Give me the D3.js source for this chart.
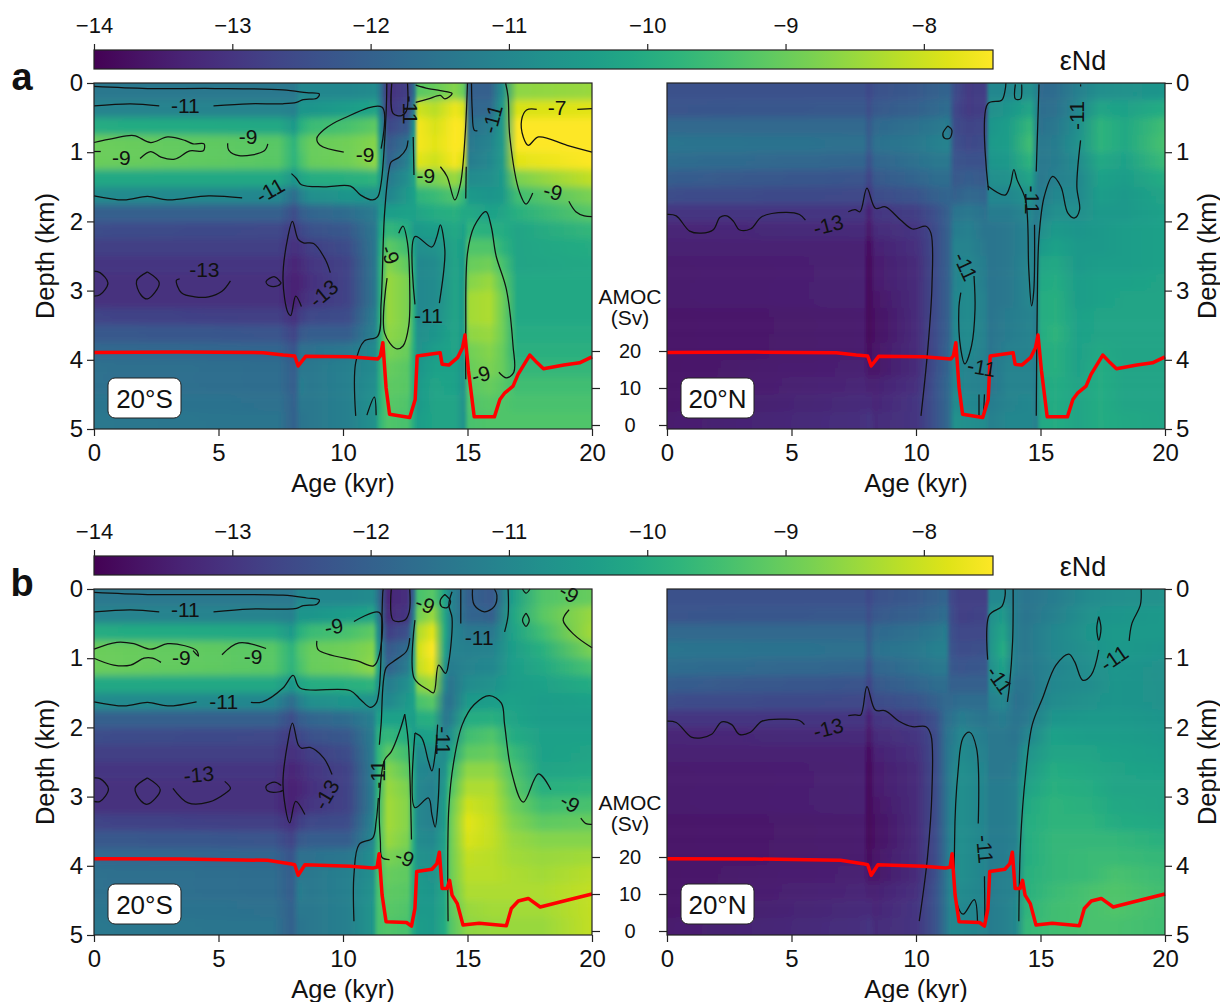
<!DOCTYPE html>
<html><head><meta charset="utf-8">
<script src="https://cdn.jsdelivr.net/npm/d3@7"></script>
<style>
html,body{margin:0;padding:0;background:#fff}
svg{display:block}
text{font-family:"Liberation Sans",Arial,sans-serif;fill:#111}
.tick text{font-family:"Liberation Sans",Arial,sans-serif}
</style></head><body>
<svg id="c" width="1220" height="1002"></svg>
<script>
// ---------- shared ----------
const depthRows = [0,.25,.5,.75,1,1.25,1.5,1.75,2,2.25,2.5,2.75,3,3.25,3.5,3.75,4,4.25,4.5,4.75,5];
const xTicks = [0,5,10,15,20];
const yTicks = [0,1,2,3,4,5];
const cbTicks = [-14,-13,-12,-11,-10,-9,-8];
const amocTicks = [0,10,20];

// ---------- AMOC (age kyr, Sv) ----------
const amocA = [[0,19.6],[3.5,19.7],[6.8,19.55],[7.6,18.9],[8.06,18.65],[8.2,15.95],[8.5,18.55],[10.3,18.47],[11.4,17.84],[11.5,18.65],[11.6,22.25],[11.73,10.1],[11.87,2.9],[12.68,2.0],[12.9,6.9],[12.98,18.65],[13.9,19.55],[13.98,16.4],[14.25,16.2],[14.6,18.2],[14.8,20.9],[14.9,24.3],[15.04,14.6],[15.27,2.2],[16.08,2.2],[16.3,6.9],[16.5,8.7],[16.83,10.5],[17.03,13.7],[17.5,18.9],[17.8,16.8],[18.05,15.2],[18.87,16.2],[19.5,16.8],[20,18.4]];
const amocB = [[0,19.55],[3.5,19.46],[6.97,19.1],[7.86,18.2],[8.06,17.9],[8.2,15.07],[8.47,17.9],[10.3,17.5],[11.19,17],[11.37,17.3],[11.45,20.9],[11.57,9.7],[11.73,2.5],[12.55,2.3],[12.75,1.3],[12.89,6.1],[12.96,16.1],[13.57,16.7],[13.77,18.2],[13.87,21.3],[13.98,11.5],[14.18,11.5],[14.28,13.7],[14.38,9.7],[14.59,7.4],[14.82,1.6],[15.47,2.1],[16.56,1.4],[16.76,6.1],[17.04,8.1],[17.44,8.8],[17.92,6.5],[18.87,8.1],[20,10]];

// ---------- Panel a, 20S ----------
const agesA20S = [0,7.4,8.05,8.3,8.7,10.2,11.3,11.5,11.8,12.6,12.88,13.0,13.7,14.5,14.85,15.05,15.9,16.4,17.0,20];
const heatA20S = [
[-11.4,-11.1,-10.0,-8.95,-8.95,-10.1,-10.9,-12.0,-12.5,-12.8,-13.0,-13.1,-13.1,-12.7,-12.2,-11.8,-11.6,-11.6,-11.5,-11.4],
[-11.4,-11.1,-10.1,-9.2,-9.2,-10.1,-11,-12,-12.6,-12.8,-13,-13.1,-13.1,-12.8,-12.3,-11.9,-11.7,-11.7,-11.6,-11.5],
[-11.4,-11.2,-10.5,-9.8,-9.8,-10.6,-11.7,-12.5,-12.9,-13.1,-13.3,-13.4,-13.4,-13.1,-12.7,-12.3,-12.1,-12.1,-12.0,-12.0],
[-11.0,-10.6,-9.9,-9.3,-9.4,-10.2,-11.2,-12.1,-12.6,-13,-13.2,-13.3,-13.2,-12.8,-12.2,-11.6,-11.4,-11.3,-11.4,-11.5],
[-11.0,-10.6,-9.6,-9.0,-9.0,-10.0,-10.8,-11.9,-12.4,-12.8,-13,-13.1,-13,-12.6,-12.1,-11.6,-11.4,-11.4,-11.4,-11.4],
[-11.0,-10.4,-9.4,-8.9,-8.9,-9.9,-10.6,-11.7,-12.2,-12.5,-12.7,-12.7,-12.7,-12.5,-12.1,-11.4,-11.2,-11.2,-11.2,-11.2],
[-10.9,-10.2,-9.1,-8.7,-8.6,-9.8,-10.7,-11.3,-11.4,-11.4,-11.4,-11.4,-11.4,-11.2,-11.1,-10.9,-10.9,-10.8,-10.7,-10.7],
[-11.5,-11.2,-10.8,-10.5,-10.3,-10.5,-10.7,-10.5,-10.2,-10,-9.9,-9.9,-9.9,-9.8,-9.8,-9.8,-9.8,-9.8,-9.8,-9.7],
[-13.1,-13,-12.6,-12.2,-12.0,-11.4,-11.1,-10.4,-9.7,-9.1,-8.7,-8.5,-8.5,-8.5,-8.6,-8.8,-9,-9.1,-9.2,-9.3],
[-12.8,-12.6,-12.2,-11.6,-11.2,-10.8,-10.5,-10.3,-10,-9.5,-9.1,-8.8,-8.8,-8.8,-8.8,-9,-9.2,-9.2,-9.3,-9.4],
[-11.5,-11,-10.5,-10.3,-10.2,-10.2,-10.3,-10.3,-10.5,-10.4,-10.2,-10.1,-10.1,-10.1,-10.1,-10.1,-10.1,-10.1,-10.1,-10.1],
[-9.2,-8,-7.6,-7.6,-7.8,-8.9,-9.8,-10.2,-10.5,-10.8,-11,-11,-11,-11,-10.8,-10.7,-10.6,-10.5,-10.5,-10.4],
[-9,-8.2,-7.9,-7.8,-8,-8.8,-9.6,-10,-10.4,-10.7,-10.9,-10.9,-10.9,-10.8,-10.6,-10.4,-10.3,-10.2,-10.2,-10.2],
[-8.7,-7.7,-7.5,-7.5,-7.6,-8.5,-9.3,-9.9,-10.1,-10.2,-10.2,-10.2,-10.2,-10.2,-10.2,-10.2,-10.3,-10.3,-10.2,-10.2],
[-9,-7.9,-7.6,-7.6,-7.9,-8.9,-9.7,-10.1,-10.3,-10.4,-10.5,-10.5,-10.5,-10.5,-10.5,-10.6,-10.7,-10.7,-10.7,-10.7],
[-12,-11.9,-11.6,-11.4,-11.3,-10.9,-10.5,-10.1,-9.8,-9.3,-9,-8.7,-8.4,-8.4,-8.6,-8.9,-9,-9.2,-9.3,-9.4],
[-12,-11.8,-11.3,-11.1,-11,-10.8,-10.6,-10.3,-9.9,-9.3,-8.9,-8.5,-8.3,-8.3,-8.5,-8.7,-8.8,-9,-9.2,-9.3],
[-10.8,-10.5,-10.5,-10.5,-10.5,-10.5,-10.5,-10.2,-10,-9.8,-9.4,-9.1,-8.9,-8.9,-8.9,-9,-9,-9.2,-9.3,-9.3],
[-8.6,-7.9,-7.5,-7.5,-7.8,-8.8,-9.5,-9.9,-10.2,-10.2,-10.2,-10.1,-10.1,-10.1,-10,-9.9,-9.7,-9.5,-9.4,-9.3],
[-8.5,-7.8,-7.4,-7.4,-7.5,-8.1,-8.8,-9.2,-9.7,-10,-10.1,-10.1,-10.1,-10.1,-10,-9.9,-9.7,-9.5,-9.4,-9.3]];
const contoursA20S = [
[[0,.05],[2.15,.08],[4.87,.08],[7.59,.1],[8.54,.14],[9.05,.16],[8.95,.22],[8.4,.24],[8.13,.28],[7.59,.3],[6.23,.3],[4.8,.33]],
[[2.62,.33],[1.47,.3],[0,.33]],
[[0,.86],[.79,.8],[1.6,.76],[2.28,.86],[2.96,.78],[3.65,.83],[3.98,.88],[4.42,.88],[4.39,.98],[3.85,.98],[3.24,1.1],[2.69,1.07],[2.28,.99],[1.85,1.09]],
[[0,.99],[.27,.99]],
[[5.37,.87],[5.41,.97],[5.82,1.05],[6.84,.98],[6.98,.88]],
[[11.53,.95],[11.57,.35],[10.03,.51],[9.22,.68],[8.95,.8],[9.08,.9],[10.03,1.0]],
[[0,1.63],[1.2,1.69],[2.15,1.64],[2.96,1.69],[4.6,1.63],[5.95,1.66]],
[[7.93,1.31],[8.13,1.38],[8.33,1.47],[9.22,1.5],[10.3,1.49],[10.71,1.62],[11.19,1.69],[11.39,1.65],[11.53,1.45],[11.73,.44],[11.76,0]],
[[10.51,4.81],[10.51,4.04],[10.85,3.73],[11.39,3.66],[11.53,3.18],[11.67,1.88],[11.87,1.21],[11.94,1.14],[12.27,1.07],[12.54,.95],[12.61,.83]],
[[9.49,2.74],[9.29,2.55],[8.82,2.32],[8.41,2.31],[8.2,2.26],[7.97,2.0],[7.79,2.22],[7.59,2.84],[7.79,3.32],[7.9,3.36],[8.1,3.08],[8.33,3.23]],
[[7.52,2.89],[7.25,2.8],[6.91,2.87],[7.04,2.93],[7.38,2.93],[7.52,2.89]],
[[0,2.72],[.24,2.74],[.56,2.89],[.24,3.06],[0,3.08]],
[[2.15,2.73],[2.62,2.89],[2.15,3.12],[1.88,3.06],[1.71,2.86],[2.15,2.73]],
[[3.44,2.83],[3.31,2.85],[3.51,3.03],[4.05,3.09],[4.6,3.09],[5.14,3.01],[5.48,2.86]],
[[11.77,2.82],[11.67,3.61],[12.14,3.84],[12.41,3.8],[12.64,3.51],[12.68,2.94],[12.59,2.31],[12.41,2.07],[12.24,2.17]],
[[12.89,3.2],[12.89,2.22],[13.57,2.37],[13.77,2.22],[13.91,2.05],[14.09,2.41],[14.05,2.7],[13.87,3.18]],
[[11.96,0],[12.01,.44],[12.35,.47],[12.55,.4],[12.59,0]],
[[12.92,.03],[13.43,.08],[13.91,.11],[14.38,.15],[14.09,.23],[13.91,.18],[13.43,.23],[12.92,.28]],
[[12.82,.78],[12.85,1.33]],
[[13.91,1.21],[14.18,1.35],[14.49,1.69],[14.72,1.45],[14.9,.78],[15,0]],
[[14.95,1.21],[14.93,1.67]],
[[15.16,0],[15.19,.39],[15.27,.68],[15.4,.69]],
[[16.53,0],[16.63,.2],[16.7,.78],[17.1,1.59],[17.35,1.75],[17.62,1.59]],
[[17.78,.38],[17.37,.39],[17.17,.54],[17.24,.78],[17.44,.9],[17.85,.78],[19.0,.9],[20,1.0]],
[[19.41,.38],[20,.37]],
[[19.07,1.71],[19.35,1.86],[19.69,1.92],[20,1.93]],
[[14.93,4.28],[14.93,3.61],[15,2.46],[15.27,2.07],[15.74,1.86],[15.95,2.07],[16.15,2.5],[16.56,2.98],[16.83,3.8],[16.86,4.18],[16.56,4.26],[16.26,4.18]],
[[10.96,4.8],[11.26,4.54],[11.33,4.8]]];
const labelsA20S = [["-11",3.67,.32,0],["-9",1.1,1.08,0],["-9",6.19,.77,0],["-9",10.89,1.03,0],["-11",7.07,1.55,-30],["-13",4.43,2.7,0],["-13",9.22,3.04,-40],["-9",11.9,2.48,70],["-11",13.43,3.36,0],["-9",13.33,1.33,0],["-11",15.99,.52,-75],["-7",18.6,.36,0],["-9",18.43,1.57,15],["-9",15.54,4.21,-15],["-11",12.72,.39,90]];

// ---------- Panel a, 20N ----------
const agesA20N = [0,7.9,8.1,8.35,10,10.8,11.3,11.55,12.1,12.8,12.95,13.7,14.6,14.85,15,15.6,16.5,17.4,18.4,20];
const heatA20N = [
[-12.4,-12.3,-11.8,-11.5,-11.7,-12.1,-12.5,-13,-13.3,-13.4,-13.5,-13.5,-13.5,-13.6,-13.6,-13.6,-13.6,-13.6,-13.6,-13.5],
[-12.4,-12.2,-11.8,-11.6,-11.9,-12.3,-12.6,-13,-13.2,-13.4,-13.4,-13.4,-13.4,-13.5,-13.5,-13.5,-13.4,-13.3,-13.2,-13.1],
[-12.6,-12.5,-12.2,-12.1,-12.4,-12.7,-13,-13.4,-13.6,-13.8,-13.9,-13.9,-13.9,-13.9,-13.9,-13.8,-13.6,-13.4,-13.2,-13],
[-12.4,-12.2,-11.8,-11.6,-11.9,-12.2,-12.5,-13,-13.2,-13.4,-13.5,-13.5,-13.6,-13.7,-13.7,-13.6,-13.6,-13.4,-13.3,-13.2],
[-12.2,-12,-11.6,-11.4,-11.6,-11.9,-12.3,-12.8,-13.0,-13.1,-13.2,-13.2,-13.2,-13.2,-13.2,-13.2,-13.2,-13.1,-13,-13],
[-12,-11.8,-11.4,-11.2,-11.4,-11.7,-12,-12.4,-12.5,-12.5,-12.5,-12.5,-12.5,-12.5,-12.5,-12.5,-12.4,-12.3,-12.3,-12.3],
[-11.9,-11.7,-11.3,-11.1,-11.4,-11.7,-11.9,-12,-12,-12,-12,-12,-12,-12,-12,-11.9,-11.9,-11.8,-11.8,-11.8],
[-12.5,-12.6,-12.5,-12.4,-12.3,-12.2,-12.0,-11.5,-11.3,-11.1,-11.1,-11.1,-11,-11,-11,-11,-11,-11,-10.9,-10.7],
[-12.9,-12.9,-12.7,-12.6,-12.4,-12.1,-11.8,-11.4,-11.2,-11.1,-11,-10.9,-10.9,-10.9,-10.9,-10.95,-11.1,-11.1,-11,-10.8],
[-12.8,-12.8,-12.6,-12.5,-12.4,-12.2,-11.9,-11.6,-11.5,-11.4,-11.3,-11.3,-11.2,-11.2,-11.2,-11.2,-11.2,-11.2,-11.1,-10.9],
[-11,-10.8,-10.6,-10.5,-10.6,-10.8,-11,-11.3,-11.5,-11.5,-11.5,-11.5,-11.5,-11.5,-11.5,-11.5,-11.5,-11.5,-11.3,-11.2],
[-11,-10.6,-10.4,-10.4,-10.5,-10.7,-11,-11.3,-11.4,-11.4,-11.4,-11.4,-11.4,-11.3,-11.3,-11.2,-11.1,-11.1,-11.1,-11],
[-10.8,-10.2,-9.7,-9.5,-9.8,-10.2,-10.7,-11,-11.1,-11.1,-11,-11,-11,-11.1,-11.1,-11.1,-11.1,-11.1,-11,-11],
[-11.1,-11,-11,-11,-11,-11.1,-11.2,-11.3,-11.4,-11.3,-11.3,-11.3,-11.3,-11.3,-11.3,-11.3,-11.3,-11.3,-11.3,-11.2],
[-11.8,-11.7,-11.6,-11.4,-11.4,-11.4,-11.3,-11.1,-10.8,-10.5,-10.2,-10.1,-10.0,-10,-10,-10.0,-10,-10.1,-10.1,-10.1],
[-11.7,-11.6,-11.4,-11.3,-11.3,-11.2,-11,-10.8,-10.5,-10.3,-10.1,-10,-9.9,-9.9,-9.8,-9.9,-9.9,-10,-10,-10],
[-11.2,-11,-10.8,-10.7,-10.9,-11,-10.95,-10.8,-10.6,-10.5,-10.5,-10.4,-10.4,-10.3,-10.3,-10.3,-10.3,-10.2,-10.2,-10.2],
[-10.8,-10.2,-9.8,-9.8,-10.1,-10.3,-10.4,-10.5,-10.5,-10.5,-10.4,-10.3,-10.3,-10.2,-10.2,-10.1,-10,-10,-10,-10],
[-10.7,-10.3,-10.1,-10.1,-10.3,-10.4,-10.5,-10.5,-10.4,-10.4,-10.4,-10.3,-10.2,-10.2,-10.2,-10.2,-10.2,-10.2,-10.2,-10.1],
[-10.6,-10,-9.5,-9.4,-9.6,-10,-10.2,-10.3,-10.3,-10.3,-10.3,-10.2,-10.2,-10.2,-10.2,-10.2,-10.2,-10.2,-10.2,-10.2]];
const contoursA20N = [
[[0,1.9],[.37,1.92],[.91,2.14],[1.38,2.17],[1.86,2.12],[2.13,1.94],[2.4,1.92],[2.67,2.0],[2.9,2.12],[3.35,2.11],[3.82,1.93],[4.77,1.87],[5.32,1.9],[5.56,1.98]],
[[7.28,1.86],[7.55,1.83],[7.75,1.86],[8.03,1.52],[8.37,1.81],[8.77,1.79],[9.38,1.98],[9.86,2.11],[10.4,2.07],[10.6,2.17],[10.64,2.94],[10.46,3.9],[10.2,4.81]],
[[11.28,.62],[11.44,.68],[11.35,.8],[11.15,.8],[11.08,.73],[11.28,.62]],
[[12.33,2.79],[12.37,3.27],[12.23,3.8],[11.96,4.06],[11.8,3.85],[11.72,3.27],[11.8,3.03]],
[[12.53,4.5],[12.53,4.81]],
[[12.75,4.5],[12.71,4.81]],
[[12.91,1.55],[12.88,.3],[13.44,.25],[13.58,.1],[13.61,0]],
[[13.99,.02],[13.99,.23],[14.2,.23],[14.24,.02]],
[[14.94,.02],[14.83,1.28]],
[[12.88,1.49],[13.58,1.62],[13.79,1.47],[13.93,1.25],[14.06,1.4],[14.4,1.69],[14.53,2.7],[14.64,3.22],[14.73,3],[14.76,2.05]],
[[14.83,4.81],[14.87,3.18],[14.94,2.22],[15.15,1.64],[15.49,1.35],[15.82,1.5],[16.1,1.88],[16.37,1.95],[16.57,1.83],[16.46,1.5],[16.61,.83]],
[[16.61,.02],[16.61,.05]]];
const labelsA20N = [["-13",6.47,2.05,-15],["-11",11.99,2.65,65],["-11",14.67,1.69,90],["-11",16.46,.47,-90],["-11",12.64,4.11,10]];

// ---------- Panel b, 20S ----------
const agesB20S = [0,7.2,7.95,8.25,8.7,10.2,11.2,11.4,11.8,12.6,12.85,13.0,13.6,14.1,14.3,15.0,16,16.8,18,20];
const heatB20S = [
[-11.4,-11.1,-10.0,-8.95,-8.95,-10.1,-10.9,-12.0,-12.5,-12.8,-13.0,-13.1,-13.1,-12.7,-12.2,-11.8,-11.6,-11.6,-11.5,-11.4],
[-11.4,-11.1,-10.1,-9.2,-9.2,-10.1,-11,-12,-12.6,-12.8,-13,-13.1,-13.1,-12.8,-12.3,-11.9,-11.7,-11.7,-11.6,-11.5],
[-11.4,-11.2,-10.5,-9.8,-9.8,-10.6,-11.7,-12.5,-12.9,-13.1,-13.3,-13.4,-13.4,-13.1,-12.7,-12.3,-12.1,-12.1,-12.0,-12.0],
[-11.0,-10.6,-9.9,-9.3,-9.4,-10.2,-11.2,-12.1,-12.6,-13,-13.2,-13.3,-13.2,-12.8,-12.2,-11.6,-11.4,-11.3,-11.4,-11.5],
[-11.0,-10.6,-9.6,-9.0,-9.0,-10.0,-10.8,-11.9,-12.4,-12.8,-13,-13.1,-13,-12.6,-12.1,-11.6,-11.4,-11.4,-11.4,-11.4],
[-11.0,-10.4,-9.4,-8.9,-8.9,-9.9,-10.6,-11.7,-12.2,-12.5,-12.7,-12.7,-12.7,-12.5,-12.1,-11.4,-11.2,-11.2,-11.2,-11.2],
[-10.9,-10.2,-9.1,-8.7,-8.6,-9.8,-10.7,-11.2,-11.3,-11.3,-11.3,-11.3,-11.3,-11.1,-11,-10.8,-10.8,-10.7,-10.6,-10.6],
[-11.5,-11.2,-10.8,-10.5,-10.2,-10.6,-10.8,-10.3,-9.9,-9.8,-9.8,-9.8,-9.7,-9.6,-9.6,-9.5,-9.4,-9.4,-9.4,-9.4],
[-13.3,-13.2,-12.8,-12.2,-12,-11.3,-11,-10.3,-9.7,-9.1,-8.7,-8.5,-8.4,-8.4,-8.5,-8.8,-9,-9.1,-9.2,-9.3],
[-13.1,-13,-12.4,-11.7,-11.3,-10.8,-10.5,-10.3,-10,-9.5,-9.1,-8.8,-8.7,-8.7,-8.8,-9,-9.1,-9.2,-9.3,-9.4],
[-11.8,-11.2,-10.7,-10.4,-10.2,-10.2,-10.3,-10.4,-10.4,-10.3,-10.2,-10.2,-10.2,-10.2,-10.1,-10.1,-10.1,-10.1,-10.1,-10.1],
[-9.4,-8.9,-8.3,-8.0,-8.1,-8.7,-9.4,-10,-10.4,-10.9,-11,-11,-11,-11,-10.9,-10.7,-10.5,-10.5,-10.5,-10.4],
[-9.2,-8.5,-7.8,-7.5,-7.7,-8.4,-9.2,-9.9,-10.3,-10.7,-11.1,-11.2,-11.2,-11.2,-11,-10.8,-10.7,-10.6,-10.5,-10.5],
[-10.3,-10.2,-10.1,-10.3,-10.6,-11,-11.4,-11.4,-11.2,-10.9,-10.7,-10.5,-10.4,-10.4,-10.3,-10.2,-10.2,-10.1,-10.1,-10],
[-11,-11,-11,-11.1,-11.3,-11.5,-11.6,-11.3,-10.8,-10.3,-9.7,-9.4,-9.1,-9,-9,-9,-9,-9.1,-9.2,-9.3],
[-12,-11.9,-11.4,-11.2,-11.1,-10.9,-10.5,-10,-9.5,-9.1,-8.6,-8.3,-8,-7.8,-7.9,-8.1,-8.2,-8.3,-8.5,-8.6],
[-12.2,-12,-11.4,-11.1,-11,-10.7,-10.4,-9.9,-9.3,-9,-8.6,-8.3,-8.2,-8.1,-8.1,-8.2,-8.2,-8.3,-8.4,-8.5],
[-10.4,-10.2,-10.3,-10.4,-10.4,-10.4,-10.3,-10.2,-10,-9.6,-9.3,-9.1,-8.9,-8.7,-8.5,-8.4,-8.3,-8.3,-8.4,-8.5],
[-9.3,-9.2,-9.5,-9.9,-10.1,-10.3,-10.4,-10.4,-10.3,-10.3,-10.2,-9.9,-9.5,-9.1,-8.7,-8.5,-8.4,-8.3,-8.4,-8.5],
[-9,-8.5,-8.4,-8.8,-9.4,-10,-10.3,-10.4,-10.3,-10.2,-10.1,-9.8,-9.4,-9,-8.7,-8.4,-8.2,-8.1,-8.1,-8.1]];
const contoursB20S = [
[[0,.05],[2.15,.08],[4.8,.08],[7.59,.09],[8.54,.13],[9.05,.16],[8.95,.22],[8.4,.24],[8.13,.28],[7.59,.29],[6.23,.29],[4.8,.33]],
[[2.62,.33],[1.47,.3],[0,.33]],
[[0,.87],[.92,.77],[1.6,.79],[2.28,.87],[2.96,.79],[3.65,.82],[4.12,.89],[4.19,.97],[3.98,.89]],
[[0,1.0],[.79,1.1],[1.47,1.1],[2.01,1.0],[2.35,1.0],[2.69,1.06]],
[[5.14,.95],[5.82,.78],[6.91,.86]],
[[10.44,.47],[11.46,.34],[11.46,.95],[11.23,1.11],[10.58,1.04],[9.01,.88],[8.95,.75]],
[[0,1.63],[1.2,1.69],[2.15,1.64],[2.96,1.69],[4.12,1.63]],
[[6.3,1.64],[6.77,1.63],[7.59,1.43],[8,1.25],[8.27,1.43],[10.3,1.47],[10.71,1.6],[11.09,1.71],[11.33,1.65],[11.46,1.43],[11.6,.04],[11.62,0]],
[[10.44,4.8],[10.44,4.13],[10.65,3.69],[11.19,3.6],[11.33,3.36],[11.42,3.02]],
[[11.46,2.25],[11.53,1.96],[11.73,1.14],[12.01,1.05],[12.55,.9],[12.68,.71]],
[[12.48,1.81],[12.27,2.06],[11.94,2.35],[11.67,2.47],[11.46,3.07],[11.5,3.64],[11.57,3.88],[11.87,3.91]],
[[12.48,1.81],[12.62,2.2],[12.75,3.62]],
[[11.94,0],[12.01,.45],[12.48,.45],[12.66,.33],[12.68,0]],
[[12.89,2.08],[13.16,2.15],[13.43,2.49],[13.57,2.63],[13.7,2.39],[13.8,1.96]],
[[12.89,2.08],[12.89,3.16],[13.43,3.02],[13.57,3.26],[13.7,3.44],[13.82,3.07],[13.87,2.59]],
[[12.89,.45],[12.86,1.29],[13.43,1.46],[13.64,1.5],[13.84,1.1],[14.12,1.22],[14.25,1.05],[14.38,.42],[14.25,.23],[14.38,.04]],
[[14.09,.08],[14.32,.18],[14.18,.27],[13.95,.25],[13.91,.16],[14.09,.08]],
[[14.73,0],[14.73,.5]],
[[15.2,0],[15.27,.23],[15.68,.33],[16.08,.25],[16.18,.09],[16.08,0]],
[[16.63,0],[16.63,.38],[16.49,.62]],
[[17.21,0],[17.35,.06],[17.51,0]],
[[17.35,.35],[17.48,.45],[17.35,.54],[17.21,.45],[17.35,.35]],
[[19.08,.3],[18.84,.45],[19.28,.66],[20,.85]],
[[14.22,4.8],[14.25,3.16],[14.45,2.49],[14.79,1.96],[15.27,1.67],[15.88,1.54],[16.36,1.65],[16.49,1.96],[16.76,2.63],[17.24,3.08],[17.85,2.67],[18.35,2.9]],
[[19.55,3.31],[19.76,3.39],[20,3.4]],
[[9.56,2.68],[9.22,2.44],[8.68,2.29],[8.33,2.3],[8.2,2.25],[7.97,1.94],[7.79,2.2],[7.59,2.83],[7.86,3.38],[8.1,3.07],[8.47,3.26]],
[[7.52,2.84],[7.25,2.79],[6.91,2.85],[6.98,2.92],[7.45,2.93],[7.59,2.91]],
[[0,2.73],[.24,2.74],[.58,2.89],[.24,3.07],[0,3.07]],
[[2.15,2.73],[2.66,2.9],[2.15,3.11],[1.88,3.06],[1.65,2.88],[2.15,2.73]],
[[3.17,2.88],[3.78,3.09],[4.6,3.08],[5.28,2.95],[5.48,2.88],[5.25,2.78]]];
const labelsB20S = [["-11",3.67,.3,0],["-9",3.51,.99,0],["-9",6.39,.98,0],["-9",9.63,.54,-10],["-11",5.21,1.62,0],["-13",4.21,2.68,-5],["-13",9.33,2.97,-60],["-11",11.37,2.68,-90],["-9",12.48,3.88,20],["-9",13.3,.22,20],["-11",15.47,.7,0],["-11",14.05,2.19,90],["-9",19.08,.06,30],["-9",19.12,3.09,30]];

// ---------- Panel b, 20N ----------
const agesB20N = [0,7.9,8.1,8.35,10,10.8,11.2,11.4,11.8,12.85,12.95,13.5,14,14.4,15.5,17,18,20];
const heatB20N = [
[-12.4,-12.3,-11.8,-11.5,-11.7,-12.1,-12.5,-13,-13.3,-13.4,-13.5,-13.5,-13.5,-13.6,-13.6,-13.6,-13.6,-13.6,-13.6,-13.5],
[-12.4,-12.2,-11.8,-11.6,-11.9,-12.3,-12.6,-13,-13.2,-13.4,-13.4,-13.4,-13.4,-13.5,-13.5,-13.5,-13.4,-13.3,-13.2,-13.1],
[-12.6,-12.5,-12.2,-12.1,-12.4,-12.7,-13,-13.4,-13.6,-13.8,-13.9,-13.9,-13.9,-13.9,-13.9,-13.8,-13.6,-13.4,-13.2,-13],
[-12.4,-12.2,-11.8,-11.6,-11.9,-12.2,-12.5,-13,-13.2,-13.4,-13.5,-13.5,-13.6,-13.7,-13.7,-13.6,-13.6,-13.4,-13.3,-13.2],
[-12.2,-12,-11.6,-11.4,-11.6,-11.9,-12.3,-12.8,-13.0,-13.1,-13.2,-13.2,-13.2,-13.2,-13.2,-13.2,-13.2,-13.1,-13,-13],
[-12,-11.8,-11.4,-11.2,-11.4,-11.7,-12,-12.4,-12.5,-12.5,-12.5,-12.5,-12.5,-12.5,-12.5,-12.5,-12.4,-12.3,-12.3,-12.3],
[-11.9,-11.7,-11.3,-11.2,-11.4,-11.7,-11.8,-11.7,-11.6,-11.6,-11.6,-11.6,-11.6,-11.6,-11.6,-11.6,-11.5,-11.5,-11.5,-11.5],
[-12.6,-12.5,-12.4,-12.3,-12.2,-12,-11.8,-11.6,-11.4,-11.3,-11.2,-11.2,-11.1,-11.1,-11.1,-11,-11,-11,-11,-11],
[-12.8,-12.8,-12.6,-12.5,-12.3,-12,-11.7,-11.3,-11,-10.9,-10.8,-10.8,-10.8,-10.8,-10.8,-10.8,-10.8,-10.9,-11,-11],
[-12.8,-12.7,-12.6,-12.4,-12.2,-12,-11.7,-11.5,-11.3,-11.2,-11.1,-11.1,-11.1,-11.1,-11.1,-11.1,-11.1,-11.1,-11.1,-11.1],
[-11,-10.8,-10.7,-10.7,-10.8,-11,-11.2,-11.4,-11.4,-11.4,-11.4,-11.3,-11.3,-11.3,-11.3,-11.3,-11.3,-11.3,-11.3,-11.3],
[-11,-10.5,-10.2,-10,-10.3,-10.7,-11,-11.3,-11.4,-11.4,-11.4,-11.3,-11.3,-11.3,-11.3,-11.3,-11.2,-11.2,-11.2,-11.2],
[-11.3,-11.3,-11.3,-11.3,-11.3,-11.5,-11.6,-11.5,-11.5,-11.4,-11.3,-11.2,-11.2,-11.2,-11.2,-11.1,-11.1,-11.1,-11,-11],
[-11.5,-11.5,-11.4,-11.4,-11.4,-11.5,-11.5,-11.4,-11.1,-10.7,-10.5,-10.3,-10.1,-10.0,-10,-10,-9.9,-9.9,-9.8,-9.7],
[-11.3,-11.2,-11,-11,-11.1,-11.0,-10.9,-10.6,-10.3,-10.2,-10,-9.9,-9.8,-9.8,-9.7,-9.7,-9.7,-9.6,-9.5,-9.5],
[-10.9,-10.7,-10.6,-10.7,-10.8,-10.85,-10.7,-10.5,-10.4,-10.2,-10.1,-10,-9.9,-9.8,-9.7,-9.6,-9.6,-9.4,-9.4,-9.4],
[-10.8,-10.6,-10.5,-10.5,-10.6,-10.6,-10.6,-10.5,-10.4,-10.3,-10.2,-10.2,-10.1,-10,-9.7,-9.6,-9.4,-9.3,-9.3,-9.4],
[-10.7,-10.5,-10.5,-10.6,-10.7,-10.7,-10.7,-10.6,-10.5,-10.4,-10.3,-10.2,-10.2,-10.1,-9.9,-9.7,-9.6,-9.5,-9.5,-9.5]];
const contoursB20N = [
[[0,1.91],[.37,1.93],[.98,2.14],[1.38,2.15],[1.79,2.1],[2.2,1.92],[2.6,1.96],[2.9,2.1],[3.35,2.07],[3.82,1.91],[4.77,1.88],[5.32,1.9],[5.52,1.96]],
[[7.28,1.83],[7.55,1.82],[7.78,1.82],[8.03,1.41],[8.37,1.75],[8.77,1.76],[9.32,1.91],[9.86,1.99],[10.4,1.99],[10.6,2.11],[10.64,2.92],[10.46,3.88],[10.13,4.8]],
[[12.5,3.39],[12.43,2.3],[12.16,2.07],[11.89,2.15],[11.69,2.63],[11.55,3.64],[11.62,4.51],[11.89,4.7],[12.34,4.49],[12.47,4.8]],
[[12.75,4.15],[12.77,4.8]],
[[12.88,1.02],[12.94,.38],[13.45,.25],[13.58,.09],[13.58,0]],
[[13.9,0],[13.88,.76],[13.75,1.41],[13.67,1.63]],
[[14.13,4.8],[14.2,3.64],[14.4,2.68],[14.67,1.96],[15.08,1.58],[15.62,1.1],[16.14,.94],[16.37,1.05],[16.7,1.32],[17.04,1.24],[17.34,.88]],
[[17.34,.4],[17.43,.57],[17.34,.74],[17.26,.57],[17.34,.4]],
[[18.56,.75],[18.67,.5],[19.01,.23],[19.04,0]]];
const labelsB20N = [["-13",6.47,2.01,-15],["-11",13.36,1.31,55],["-11",17.95,1.0,-35],["-11",12.77,3.76,85]];

// ---------- drawing ----------
const svg = d3.select("#c");
const defs = svg.append("defs");
const W = 498, H = 346;
const color = d3.scaleSequential(d3.interpolateViridis).domain([-14,-7.5]).clamp(true);
const x = d3.scaleLinear().domain([0,20]).range([0,W]);
const y = d3.scaleLinear().domain([0,5]).range([0,H]);
const sv = d3.scaleLinear().domain([0,20]).range([342,268]);
const contourLine = d3.line().x(d=>x(d[0])).y(d=>y(d[1])).curve(d3.curveCatmullRom.alpha(.5));
const redLine = d3.line().x(d=>x(d[0])).y(d=>sv(d[1]));
let gid = 0;

defs.append("filter").attr("id","soft").attr("filterUnits","userSpaceOnUse")
  .attr("x",-40).attr("y",-40).attr("width",W+80).attr("height",H+80)
  .append("feGaussianBlur").attr("stdDeviation","0.8 3.5");
defs.append("clipPath").attr("id","frame").append("rect").attr("width",W).attr("height",H);

function styleAxis(a, size){
  a.selectAll("path,line").attr("stroke","#222").attr("stroke-width",1.2);
  a.selectAll("text").attr("font-size",size).attr("fill","#111");
}

function panel(tx, ty, ages, heat, contours, labels, amoc, tag, right){
  const g = svg.append("g").attr("transform",`translate(${tx},${ty})`);
  // heat rows, each a gradient along age through the column profiles
  const hg = g.append("g").attr("clip-path","url(#frame)").append("g").attr("filter","url(#soft)");
  for(let r=0;r<depthRows.length-1;r++){
    const id = "h"+(gid++);
    const lg = defs.append("linearGradient").attr("id",id).attr("gradientUnits","userSpaceOnUse")
      .attr("x1",0).attr("x2",W).attr("y1",0).attr("y2",0);
    ages.forEach((a,i)=>{
      const row = heat[i];
      lg.append("stop").attr("offset",x(a)/W).attr("stop-color",color(row[r]));
    });
    const top = r===0 ? -30 : y(depthRows[r]);
    const bot = r===depthRows.length-2 ? H+30 : y(depthRows[r+1])+.4;
    hg.append("rect").attr("x",-30).attr("y",top).attr("width",W+60)
      .attr("height",bot-top).attr("fill",`url(#${id})`);
  }
  g.append("g").selectAll("path").data(contours).join("path")
    .attr("d",contourLine).attr("fill","none").attr("stroke","#111").attr("stroke-width",1.25);
  g.append("path").attr("d",redLine(amoc)).attr("fill","none").attr("stroke","#ff0000")
    .attr("stroke-width",3.5).attr("stroke-linejoin","round");
  g.append("g").selectAll("text").data(labels).join("text")
    .attr("transform",d=>`translate(${x(d[1])},${y(d[2])}) rotate(${d[3]})`)
    .attr("text-anchor","middle").attr("dominant-baseline","central")
    .attr("font-size",21).attr("fill","#111").text(d=>d[0]);
  // frame
  g.append("rect").attr("width",W).attr("height",H).attr("fill","none").attr("stroke","#222").attr("stroke-width",1.2);
  // axes
  const ax = g.append("g").attr("transform",`translate(0,${H})`)
    .call(d3.axisBottom(x).tickValues(xTicks).tickFormat(d3.format("d")).tickSize(7).tickPadding(8));
  ax.select(".domain").remove(); styleAxis(ax,24);
  const ay = right
    ? g.append("g").attr("transform",`translate(${W},0)`).call(d3.axisRight(y).tickValues(yTicks).tickFormat(d3.format("d")).tickSize(7).tickPadding(4))
    : g.append("g").call(d3.axisLeft(y).tickValues(yTicks).tickFormat(d3.format("d")).tickSize(7).tickPadding(4));
  ay.select(".domain").remove(); styleAxis(ay,24);
  // AMOC axis in the gutter
  const am = right
    ? g.append("g").call(d3.axisLeft(sv).tickValues(amocTicks).tickFormat(d3.format("d")).tickSize(8).tickPadding(4))
    : g.append("g").attr("transform",`translate(${W},0)`).call(d3.axisRight(sv).tickValues(amocTicks).tickFormat("").tickSize(8));
  am.select(".domain").remove(); styleAxis(am,20);
  if(right) am.selectAll("text").attr("text-anchor","middle").attr("x",-37);
  // tag box
  const bx = 14, by = H-51, bw = 73, bh = 40;
  g.append("rect").attr("x",bx).attr("y",by).attr("width",bw).attr("height",bh).attr("rx",7)
    .attr("fill","#fff").attr("stroke","#222").attr("stroke-width",1);
  g.append("text").attr("x",bx+bw/2).attr("y",by+bh/2+1).attr("text-anchor","middle")
    .attr("dominant-baseline","central").attr("font-size",26).text(tag);
  // titles
  g.append("text").attr("x",W/2).attr("y",H+63).attr("text-anchor","middle").attr("font-size",25.5).text("Age (kyr)");
  const dx = right ? W+42 : -49;
  g.append("text").attr("transform",`translate(${dx},${H/2}) rotate(-90)`).attr("text-anchor","middle")
    .attr("dominant-baseline","central").attr("font-size",25.5).text("Depth (km)");
  if(right){
    g.append("text").attr("x",-37).attr("y",221).attr("text-anchor","middle").attr("font-size",21).text("AMOC");
    g.append("text").attr("x",-37).attr("y",242).attr("text-anchor","middle").attr("font-size",21).text("(Sv)");
  }
}

function colorbar(ty, letter){
  const cb = d3.scaleLinear().domain([-14,-7.5]).range([94,993]);
  const id = "cb"+ty;
  const lg = defs.append("linearGradient").attr("id",id);
  d3.range(0,1.001,.05).forEach(t=>lg.append("stop").attr("offset",t).attr("stop-color",d3.interpolateViridis(t)));
  svg.append("rect").attr("x",94).attr("y",ty).attr("width",899).attr("height",19)
    .attr("fill",`url(#${id})`).attr("stroke","#222").attr("stroke-width",1.2);
  const a = svg.append("g").attr("transform",`translate(0,${ty})`)
    .call(d3.axisTop(cb).tickValues(cbTicks).tickFormat(d3.format("d")).tickSize(6).tickPadding(11));
  a.select(".domain").remove(); styleAxis(a,22);
  svg.append("text").attr("x",1083).attr("y",ty+20).attr("text-anchor","middle").attr("font-size",27).text("εNd");
  svg.append("text").attr("x",22).attr("y",ty+40).attr("text-anchor","middle").attr("font-size",38)
    .attr("font-weight","bold").text(letter);
}

colorbar(50,"a");
colorbar(556,"b");
panel(94,83,agesA20S,heatA20S,contoursA20S,labelsA20S,amocA,"20°S",false);
panel(667,83,agesA20N,heatA20N,contoursA20N,labelsA20N,amocA,"20°N",true);
panel(94,589,agesB20S,heatB20S,contoursB20S,labelsB20S,amocB,"20°S",false);
panel(667,589,agesB20N,heatB20N,contoursB20N,labelsB20N,amocB,"20°N",true);
</script>
</body></html>
